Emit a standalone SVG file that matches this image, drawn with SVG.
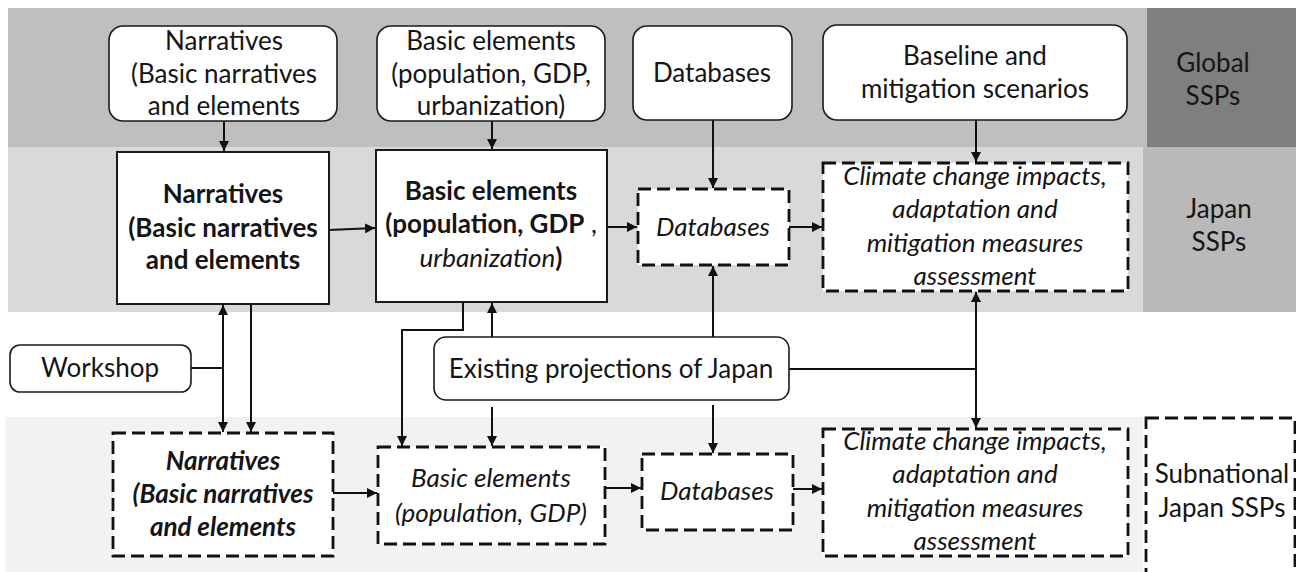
<svg xmlns="http://www.w3.org/2000/svg" width="1296" height="572" viewBox="0 0 1296 572">
<style>
text{font-family:Lato,"Open Sans","Liberation Sans",sans-serif;font-size:26px;fill:#151515;text-anchor:middle}
.b{font-weight:bold}
.i{font-style:italic}
.n{font-weight:normal}
.rnd{fill:#fff;stroke:#1a1a1a;stroke-width:1.6}
.sol{fill:#fff;stroke:#1a1a1a;stroke-width:2}
.dash{fill:#fff;stroke:#111;stroke-width:2.8;stroke-dasharray:13 6}
.c{fill:none;stroke:#111;stroke-width:2}
</style>
<defs>
<marker id="ah" viewBox="0 0 10 10" refX="10" refY="5" markerWidth="5" markerHeight="5" orient="auto-start-reverse" markerUnits="strokeWidth">
<path d="M0,0 L10,5 L0,10 z" fill="#111"/>
</marker>
</defs>
<g id="bands">
<rect x="8" y="8" width="1139" height="139" fill="#bfbfbf"/>
<rect x="1147" y="8" width="149" height="139" fill="#7f7f7f"/>
<rect x="8" y="147" width="1135" height="165" fill="#d9d9d9"/>
<rect x="1143" y="147" width="153" height="165" fill="#b9b9b9"/>
<rect x="5" y="417" width="1138" height="155" fill="#f2f2f2"/>
</g>
<g id="labels">
<text x="1213" y="72">Global</text>
<text x="1213" y="105">SSPs</text>
<text x="1219" y="218">Japan</text>
<text x="1219" y="251">SSPs</text>
</g>
<g id="subnational-label">
<rect x="1146" y="418" width="149" height="170" fill="#fff" stroke="#111" stroke-width="2.8" stroke-dasharray="13 6"/>
<text x="1222" y="483">Subnational</text>
<text x="1222" y="517">Japan SSPs</text>
</g>
<g id="connectors" class="c">
<path d="M224 121 V151" marker-end="url(#ah)"/>
<path d="M492 121 V149" marker-end="url(#ah)"/>
<path d="M713 120 V188" marker-end="url(#ah)"/>
<path d="M976 120 V162" marker-end="url(#ah)"/>
<path d="M329 230 L375 228" marker-end="url(#ah)"/>
<path d="M607 227 H637" marker-end="url(#ah)"/>
<path d="M789 227 H822" marker-end="url(#ah)"/>
<path d="M191 368 H223"/>
<path d="M223 305 V432" marker-start="url(#ah)" marker-end="url(#ah)"/>
<path d="M251 304 V432" marker-end="url(#ah)"/>
<path d="M463 302 V330 H402 V446" marker-end="url(#ah)"/>
<path d="M492 337 V303" marker-end="url(#ah)"/>
<path d="M492 407 V446" marker-end="url(#ah)"/>
<path d="M713 337 V266" marker-end="url(#ah)"/>
<path d="M713 405 V453" marker-end="url(#ah)"/>
<path d="M789 369 H976"/>
<path d="M976 292 V428" marker-start="url(#ah)" marker-end="url(#ah)"/>
<path d="M333 493 H377" marker-end="url(#ah)"/>
<path d="M605 488 H641" marker-end="url(#ah)"/>
<path d="M793 489 H822" marker-end="url(#ah)"/>
</g>
<g id="g-narratives">
<rect class="rnd" x="109" y="26" width="228" height="95" rx="14"/>
<text x="224" y="50">Narratives</text>
<text x="224" y="83">(Basic narratives</text>
<text x="224" y="115">and elements</text>
</g>
<g id="g-basic">
<rect class="rnd" x="377" y="26" width="228" height="95" rx="14"/>
<text x="491" y="50">Basic elements</text>
<text x="491" y="83">(population, GDP,</text>
<text x="491" y="115">urbanization)</text>
</g>
<g id="g-databases">
<rect class="rnd" x="633" y="26" width="159" height="94" rx="14"/>
<text x="712" y="82">Databases</text>
</g>
<g id="g-baseline">
<rect class="rnd" x="823" y="25" width="304" height="95" rx="14"/>
<text x="975" y="65">Baseline and</text>
<text x="975" y="98">mitigation scenarios</text>
</g>
<g id="j-narratives">
<rect class="sol" x="117" y="152" width="212" height="152"/>
<text class="b" x="223" y="203">Narratives</text>
<text class="b" x="223" y="237">(Basic narratives</text>
<text class="b" x="223" y="269">and elements</text>
</g>
<g id="j-basic">
<rect class="sol" x="376" y="150" width="231" height="152"/>
<text class="b" x="491" y="200">Basic elements</text>
<text class="b" x="491" y="233">(population, GDP<tspan class="n"> ,</tspan></text>
<text x="491" y="267"><tspan class="i">urbanization</tspan><tspan class="b">)</tspan></text>
</g>
<g id="j-databases">
<rect class="dash" x="638" y="189" width="151" height="76"/>
<text class="i" x="713" y="236">Databases</text>
</g>
<g id="j-climate">
<rect class="dash" x="823" y="163" width="305" height="128"/>
<text class="i" x="975" y="185">Climate change impacts,</text>
<text class="i" x="975" y="218">adaptation and</text>
<text class="i" x="975" y="252">mitigation measures</text>
<text class="i" x="975" y="285">assessment</text>
</g>
<g id="workshop">
<rect class="rnd" x="10" y="345" width="181" height="47" rx="10"/>
<text x="100" y="377">Workshop</text>
</g>
<g id="existing">
<rect class="rnd" x="434" y="337" width="355" height="63" rx="12"/>
<text x="611" y="378">Existing projections of Japan</text>
</g>
<g id="s-narratives">
<rect class="dash" x="113" y="433" width="220" height="123"/>
<text class="b i" x="223" y="470">Narratives</text>
<text class="b i" x="223" y="503">(Basic narratives</text>
<text class="b i" x="223" y="536">and elements</text>
</g>
<g id="s-basic">
<rect class="dash" x="378" y="447" width="227" height="97"/>
<text class="i" x="491" y="487">Basic elements</text>
<text class="i" x="491" y="522">(population, GDP)</text>
</g>
<g id="s-databases">
<rect class="dash" x="642" y="454" width="151" height="76"/>
<text class="i" x="717" y="500">Databases</text>
</g>
<g id="s-climate">
<rect class="dash" x="823" y="429" width="305" height="127"/>
<text class="i" x="975" y="450">Climate change impacts,</text>
<text class="i" x="975" y="483">adaptation and</text>
<text class="i" x="975" y="517">mitigation measures</text>
<text class="i" x="975" y="550">assessment</text>
</g>
</svg>
